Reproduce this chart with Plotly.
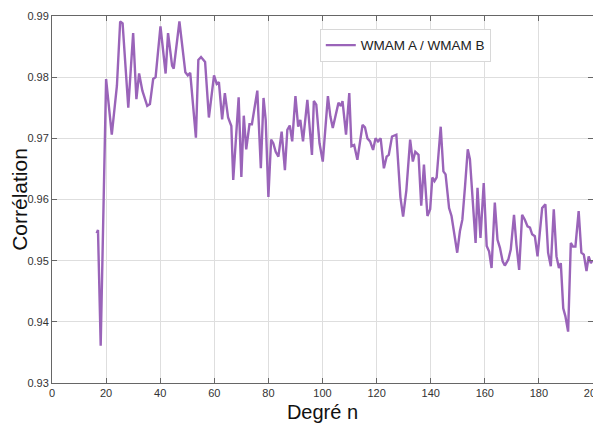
import plotly.graph_objects as go

degree_n = [16.5, 17, 18, 20, 22.1, 24.0, 25.2, 26.1, 27.9, 28.2, 30.0, 31.2, 32.2, 33.4, 35.2, 36.2,
            37.4, 38.3, 40.1, 42.0, 42.9, 44.4, 45.0, 47.1, 49.3, 50.2, 51.1, 53.2, 54.1, 55.1,
            56.6, 58.0, 59.9, 60.9, 61.7, 62.9, 63.9, 65.1, 66.3, 67.0, 69.0, 70.0, 70.9, 71.8,
            73.0, 73.9, 75.9, 77.2, 78.2, 79.0, 80.0, 81.0, 81.8, 82.7, 83.7, 84.9, 86.1, 87.0,
            87.9, 88.8, 90.0, 91.0, 91.8, 92.8, 94.4, 95.2, 96.1, 96.8, 97.7, 98.9, 100.1, 102.0,
            102.9, 103.8, 105.0, 105.9, 106.8, 107.4, 108.7, 109.9, 110.7, 111.7, 112.9, 114.8,
            115.7, 116.6, 117.6, 118.7, 119.6, 120.5, 121.5, 122.7, 123.7, 124.5, 125.7, 127.3,
            128.8, 129.8, 131.0, 132.4, 133.4, 134.3, 135.5, 136.5, 137.5, 138.8, 139.8, 140.6,
            141.4, 142.2, 143.7, 144.7, 145.5, 146.8, 147.7, 148.7, 149.8, 150.8, 151.7, 152.7,
            153.7, 154.5, 155.5, 156.6, 157.3, 158.4, 159.6, 160.7, 161.6, 162.5, 163.7, 164.7,
            165.6, 166.6, 167.4, 168.7, 169.6, 170.8, 171.7, 172.7, 173.8, 174.8, 175.8, 176.7,
            177.5, 178.5, 179.5, 181.2, 182.4, 183.4, 184.4, 185.5, 186.5, 187.4, 188.1, 189.0,
            189.8, 190.8, 191.8, 192.6, 193.5, 194.7, 195.7, 196.6, 197.6, 198.4, 199.2, 199.7]

correlation = [0.9545, 0.9550, 0.9361, 0.9797, 0.9706, 0.9786, 0.9891, 0.9888, 0.9770, 0.9750, 0.9872,
               0.9764, 0.9806, 0.9778, 0.9753, 0.9756, 0.9797, 0.9800, 0.9883, 0.9806, 0.9872,
               0.9819, 0.9814, 0.9891, 0.9808, 0.9803, 0.9807, 0.9701, 0.9828, 0.9833, 0.9825,
               0.9734, 0.9803, 0.9789, 0.9792, 0.9731, 0.9774, 0.9734, 0.9720, 0.9632, 0.9767,
               0.9637, 0.9737, 0.9682, 0.9723, 0.9723, 0.9778, 0.9651, 0.9766, 0.9730, 0.9604,
               0.9698, 0.9692, 0.9678, 0.9670, 0.9711, 0.9648, 0.9714, 0.9721, 0.9695, 0.9769,
               0.9719, 0.9730, 0.9695, 0.9763, 0.9719, 0.9673, 0.9761, 0.9755, 0.9692, 0.9662,
               0.9769, 0.9736, 0.9717, 0.9741, 0.9758, 0.9753, 0.9761, 0.9706, 0.9774, 0.9687,
               0.9689, 0.9665, 0.9722, 0.9718, 0.9700, 0.9695, 0.9681, 0.9700, 0.9695, 0.9700,
               0.9651, 0.9670, 0.9673, 0.9703, 0.9706, 0.9604, 0.9572, 0.9615, 0.9698, 0.9662,
               0.9678, 0.9673, 0.9590, 0.9657, 0.9573, 0.9584, 0.9636, 0.9630, 0.9636, 0.9719,
               0.9646, 0.9641, 0.9586, 0.9573, 0.9543, 0.9513, 0.9548, 0.9567, 0.9622, 0.9682,
               0.9666, 0.9595, 0.9529, 0.9619, 0.9537, 0.9627, 0.9524, 0.9515, 0.9488, 0.9595,
               0.9534, 0.9521, 0.9499, 0.9492, 0.9502, 0.9518, 0.9575, 0.9526, 0.9485, 0.9575,
               0.9567, 0.9556, 0.9554, 0.9543, 0.9540, 0.9507, 0.9586, 0.9592, 0.9513, 0.9491,
               0.9584, 0.9507, 0.9488, 0.9496, 0.9422, 0.9409, 0.9384, 0.9529, 0.9523, 0.9523,
               0.9581, 0.9513, 0.9510, 0.9483, 0.9507, 0.9496, 0.9500]

x_ticks = [0, 20, 40, 60, 80, 100, 120, 140, 160, 180, 200]
y_ticks = [0.93, 0.94, 0.95, 0.96, 0.97, 0.98, 0.99]

fig = go.Figure()
fig.add_trace(go.Scatter(
    x=degree_n, y=correlation, mode="lines", name="WMAM A / WMAM B",
    line=dict(color="#9a64b9", width=2.4),
))

axis_common = dict(
    showline=True, linecolor="#666666", linewidth=1, mirror="ticks",
    ticks="inside", ticklen=5, tickcolor="#666666",
    showgrid=True, gridcolor="#dedede", gridwidth=1, zeroline=False,
    automargin=False, ticklabeloverflow="allow",
    tickfont=dict(family="Liberation Sans, Arial", size=11, color="#333333"),
)

fig.update_xaxes(range=[0, 200], tickvals=x_ticks, **axis_common,
                 title=dict(text="Degré n", standoff=6,
                            font=dict(family="Liberation Sans, Arial", size=20, color="#111111")))
fig.update_yaxes(range=[0.93, 0.99], tickvals=y_ticks, tickformat=".2f", **axis_common,
                 title=dict(text="Corrélation", standoff=3,
                            font=dict(family="Liberation Sans, Arial", size=21, color="#111111")))

fig.update_layout(
    width=593, height=423,
    margin=dict(l=44, r=8, t=8, b=48, autoexpand=False),
    plot_bgcolor="white", paper_bgcolor="white",
    showlegend=True,
    legend=dict(x=0.495, y=0.965, xanchor="left", yanchor="top",
                bgcolor="white", bordercolor="#d8d8d8", borderwidth=1,
                font=dict(family="Liberation Sans, Arial", size=13.5, color="#222222"),
                itemwidth=30),
)

fig.write_html("out.html")
